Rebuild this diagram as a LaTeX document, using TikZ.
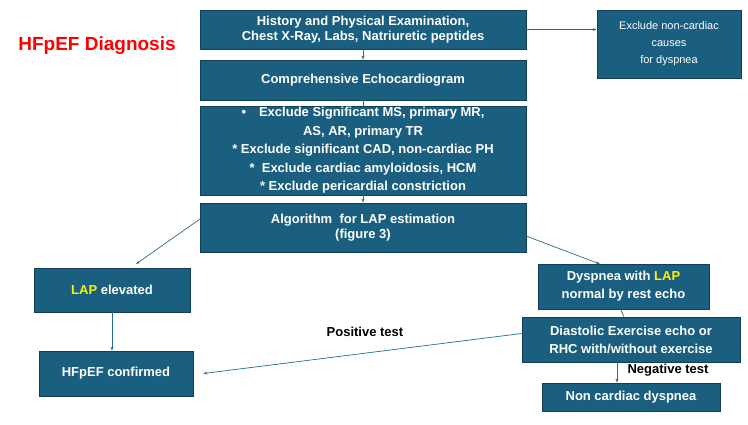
\documentclass[tikz,border=0pt]{standalone}
\usepackage{fontspec}
\setmainfont{Liberation Sans}
\usetikzlibrary{arrows.meta}
\definecolor{boxc}{HTML}{1A5E80}
\definecolor{edgec}{HTML}{123F55}
\definecolor{linec}{HTML}{2A6A8C}
\begin{document}
\begin{tikzpicture}[x=1pt,y=-1pt,
 box/.style={draw=edgec,line width=0.8pt,fill=boxc,text=white,align=center,inner sep=0pt,font=\bfseries\fontsize{13}{15}\selectfont},
 ar/.style={draw=linec,line width=0.7pt,-{Stealth[length=4pt,width=3pt]}},
 lab/.style={font=\bfseries\fontsize{13}{15}\selectfont}]
\useasboundingbox (0,0) rectangle (748,424);
\node[font=\bfseries\fontsize{19}{22}\selectfont,text=red] (title) at (97,46) {HFpEF Diagnosis};
\node[box,minimum width=326,minimum height=39] (hist) at (363,29.5) {History and Physical Examination,\\Chest X-Ray, Labs, Natriuretic peptides};
\node[box,minimum width=326,minimum height=40] (echo) at (363,80) {Comprehensive Echocardiogram};
\node[box,minimum width=326,minimum height=89,font=\bfseries\fontsize{13}{18.5}\selectfont] (excl) at (363,150.5) {\textbullet\quad Exclude Significant MS, primary MR,\\AS, AR, primary TR\\* Exclude significant CAD, non-cardiac PH\\*\ \ Exclude cardiac amyloidosis, HCM\\* Exclude pericardial constriction};
\node[box,minimum width=326,minimum height=49] (alg) at (363,227.5) {Algorithm\ \ for LAP estimation\\(figure 3)};
\node[box,minimum width=144,minimum height=68,font=\fontsize{11}{17}\selectfont] (right) at (669,44) {Exclude non-cardiac\\causes\\for dyspnea};
\node[box,minimum width=156,minimum height=44] (lap) at (112,290) {\textcolor{yellow}{LAP} elevated};
\node[box,minimum width=154,minimum height=45] (conf) at (116,373.5) {HFpEF confirmed};
\node[box,minimum width=171,minimum height=45,font=\bfseries\fontsize{13}{18}\selectfont] (dys) at (623.5,286.5) {Dyspnea with \textcolor{yellow}{LAP}\\normal by rest echo};
\node[box,minimum width=218,minimum height=45,font=\bfseries\fontsize{13}{18}\selectfont] (diast) at (631,339.5) {Diastolic Exercise echo or\\RHC with/without exercise};
\node[box,minimum width=178,minimum height=28] (non) at (631,397) {Non cardiac dyspnea};
\node[lab] (pos) at (365,332) {Positive test};
\node[lab] (neg) at (668,370) {Negative test};
\coordinate (a1) at (200,219);
\coordinate (a2) at (526,236);
\draw[ar] (hist.east) -- (right.west |- hist.east);
\draw[ar] (hist) -- (echo);
\draw[draw=linec,line width=0.7pt] (echo) -- (excl);
\draw[ar] (excl) -- (alg);
\draw[ar] (a1) -- (136,264);
\draw[ar] (a2) -- (600,264);
\draw[ar] (lap) -- (lap.center |- conf.north);
\draw[draw=linec,line width=0.7pt] (dys.south) ++(-3,0) -- ([xshift=-7pt]diast.north);
\draw[ar] (diast.west) ++(0,-6) -- ([xshift=10pt]conf.east);
\draw[ar] ([xshift=-14pt]diast.south) -- ([xshift=-14pt]diast.south |- non.north);
\end{tikzpicture}
\end{document}
